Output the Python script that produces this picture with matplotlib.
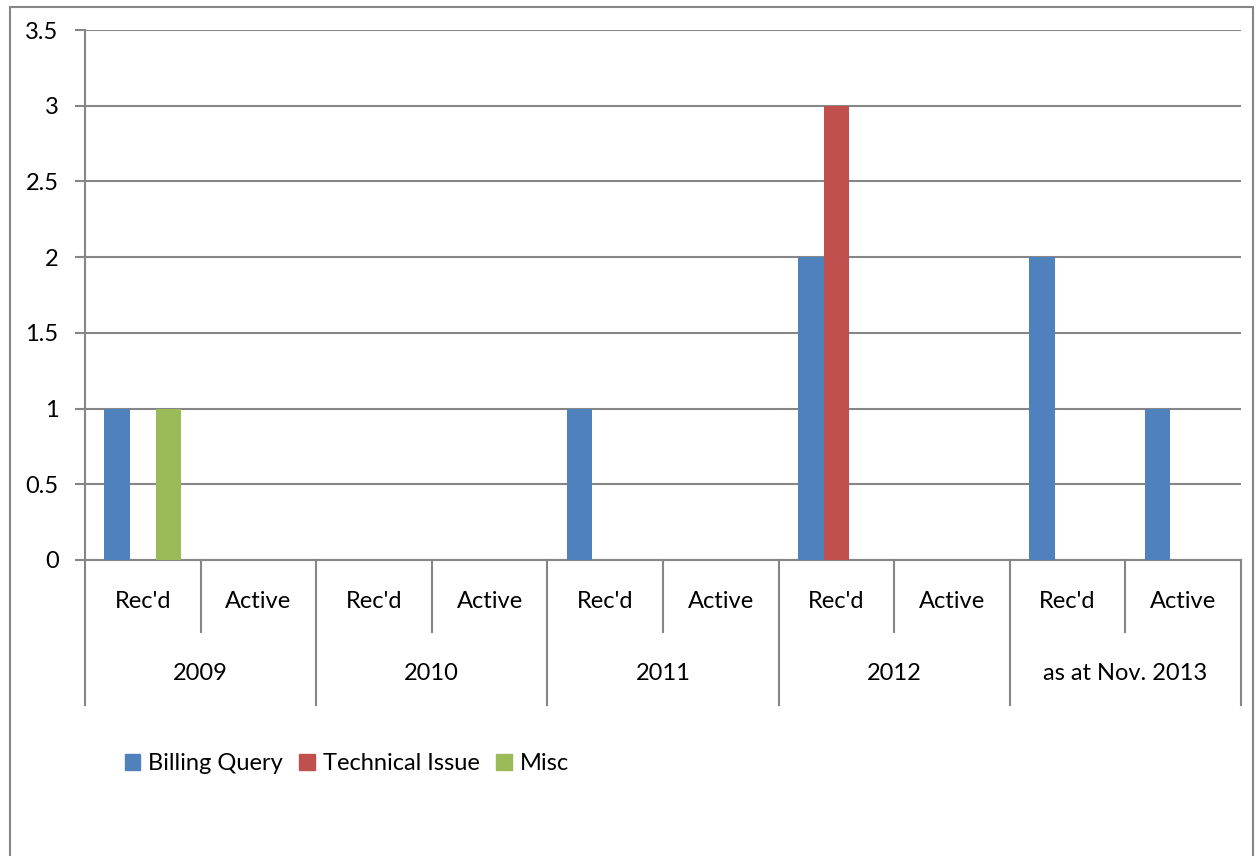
import matplotlib.pyplot as plt
import matplotlib.patches as mpatches
import matplotlib.transforms as mtransforms
import numpy as np

# data
years = ["2009", "2010", "2011", "2012", "as at Nov. 2013"]
kinds = ["Rec'd", "Active"]
series = ["Billing Query", "Technical Issue", "Misc"]
billing = [1, 0, 0, 0, 1, 0, 2, 0, 2, 1]
technical = [0, 0, 0, 0, 0, 0, 3, 0, 0, 0]
misc = [1, 0, 0, 0, 0, 0, 0, 0, 0, 0]
colors = ["#4F81BD", "#C0504D", "#9BBB59"]

plt.rcParams['font.family'] = ['Lato', 'DejaVu Sans']
grey = "#868686"
fs = 17

W, H = 1257, 856
fig = plt.figure(figsize=(W / 100, H / 100), dpi=100)
ax = fig.add_axes([85 / W, (H - 560) / H, (1241 - 85) / W, 530 / H])

n = len(billing)
x = np.arange(n) + 0.5
bw = 0.222
for k, vals in enumerate([billing, technical, misc]):
    ax.bar(x + (k - 1) * bw, vals, width=bw, color=colors[k], label=series[k], zorder=3)

ax.set_xlim(0, n)
ax.set_ylim(0, 3.5)
ax.set_yticks(np.arange(0, 3.51, 0.5))
ax.set_yticklabels(["0", "0.5", "1", "1.5", "2", "2.5", "3", "3.5"])
ax.yaxis.grid(True, color=grey, linewidth=1.5, zorder=0)
ax.tick_params(axis='y', length=7, width=1.5, color=grey, labelsize=fs, pad=12)
ax.set_xticks([])
for s in ["top", "right"]:
    ax.spines[s].set_visible(False)
ax.spines["left"].set_color(grey)
ax.spines["left"].set_linewidth(1.5)
ax.spines["bottom"].set_color(grey)
ax.spines["bottom"].set_linewidth(1.5)

# hierarchical category axis
tr = mtransforms.blended_transform_factory(ax.transData, ax.transAxes)
y_in = -0.136
y_out = -0.274
for i in range(n + 1):
    bottom = y_out if i % 2 == 0 else y_in
    ax.plot([i, i], [0, bottom], color=grey, linewidth=1.5, transform=tr, clip_on=False)
for i in range(n):
    ax.text(i + 0.5, -0.079, kinds[i % 2], transform=tr, ha='center', va='center', fontsize=fs)
for j, yr in enumerate(years):
    ax.text(2 * j + 1, -0.215, yr, transform=tr, ha='center', va='center', fontsize=fs)

# legend
handles = [mpatches.Patch(color=c, label=s) for c, s in zip(colors, series)]
fig.legend(handles=handles, ncol=3, loc='center left', bbox_to_anchor=(108 / W, 1 - 764 / H),
           frameon=False, fontsize=fs, handlelength=0.65, handleheight=0.65,
           handletextpad=0.35, columnspacing=0.7, borderpad=0.2)

# chart border
fig.patches.append(mpatches.Rectangle((10 / W, -0.05), (1253 - 10) / W, 1.05 - 7 / H,
                                      transform=fig.transFigure, fill=False,
                                      edgecolor=grey, linewidth=1.5))

fig.savefig("out.png", dpi=100)
plt.close()
